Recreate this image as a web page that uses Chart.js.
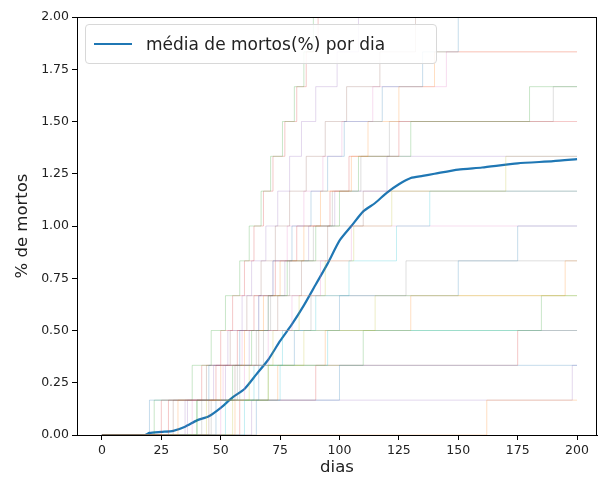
<!DOCTYPE html>
<html>
<head>
<meta charset="utf-8">
<script src="https://cdn.jsdelivr.net/npm/chart.js@4"></script>
<style>
  body { margin: 0; background: #fff; }
  #wrap { position: relative; width: 599px; height: 482px; }
  #legend {
    position: absolute; left: 85px; top: 24px; width: 352px; height: 40px;
    border: 1px solid #d8d8d8; border-radius: 4px; background: rgba(255,255,255,0.85);
    font: 17px "DejaVu Sans", sans-serif; color: #222; box-sizing: border-box;
    display: flex; align-items: center;
  }
  #legend span.sw { display: inline-block; width: 38px; height: 2.5px; background: #1f77b4; margin: 0 14px 0 8px; }
</style>
</head>
<body>
<div id="wrap">
  <canvas id="c" width="599" height="482"></canvas>
  <div id="legend"><span class="sw"></span>média de mortos(%) por dia</div>
</div>
<script>
// Mean line (day, %)
const meanDays = [0, 18, 20, 25, 30, 35, 40, 45, 50, 55, 60, 65, 70, 75, 80, 85, 90, 95, 100, 105, 110, 115, 120, 125, 130, 135, 140, 150, 160, 175, 190, 200];
const meanValues = [0, 0, 0.01, 0.015, 0.02, 0.04, 0.07, 0.09, 0.13, 0.18, 0.22, 0.29, 0.36, 0.45, 0.53, 0.62, 0.72, 0.82, 0.93, 1.0, 1.07, 1.11, 1.16, 1.2, 1.23, 1.24, 1.25, 1.27, 1.28, 1.30, 1.31, 1.32];

// Each run: days on which a death happened (each death = 1/6 %)
const runs = [
  [20, 45, 58, 66, 72, 80, 88, 95, 102, 118, 135, 150],
  [32, 50, 60, 68, 75, 85, 92, 105, 112, 125, 140],
  [40, 55, 63, 70, 78, 90, 100, 108, 130, 180],
  [25, 48, 57, 64, 73, 82, 96, 104, 125],
  [35, 52, 62, 70, 77, 87, 98, 120],
  [45, 56, 66, 74, 84, 95, 110],
  [50, 60, 70, 80, 92, 105],
  [42, 58, 68, 88, 128],
  [55, 70, 85, 115],
  [60, 75, 95],
  [65, 100],
  [162],
  [22, 38, 46, 52, 58, 62, 67, 71, 76, 81, 85, 89, 93, 98],
  [28, 42, 50, 55, 60, 64, 68, 72, 77, 82, 86, 91, 97],
  [36, 47, 53, 59, 63, 69, 74, 79, 84, 90, 99, 108, 116, 140],
  [30, 44, 54, 61, 67, 73, 79, 86, 94, 103, 117, 132, 160],
  [38, 51, 59, 66, 72, 78, 85, 93, 101, 114, 145],
  [46, 57, 65, 71, 79, 89, 97, 109, 121, 190],
  [44, 62, 72, 83, 94, 106, 122, 170],
  [52, 64, 76, 90, 104, 124, 138],
  [48, 66, 81, 100, 150, 175],
  [56, 74, 94, 130, 195],
  [40, 70, 110, 185],
  [58, 90, 175],
  [63, 198]
];
const deathStep = 1 / 6;
const xTicks = [0, 25, 50, 75, 100, 125, 150, 175, 200];
const yTicks = [0, 0.25, 0.5, 0.75, 1.0, 1.25, 1.5, 1.75, 2.0];
const palette = ['31,119,180', '255,127,14', '44,160,44', '214,39,40', '148,103,189', '140,86,75', '227,119,194', '127,127,127', '188,189,34', '23,190,207'];

const datasets = runs.map(function(days, i) {
  const pts = [{ x: 0, y: 0 }];
  days.forEach(function(d, k) { pts.push({ x: d, y: (k + 1) * deathStep }); });
  pts.push({ x: 200, y: days.length * deathStep });
  return {
    data: pts, stepped: true, borderWidth: 1, pointRadius: 0,
    borderColor: 'rgba(' + palette[i % 10] + ',0.25)'
  };
});
datasets.push({
  data: meanDays.map(function(d, i) { return { x: d, y: meanValues[i] }; }),
  borderColor: '#1f77b4', borderWidth: 2.2, pointRadius: 0, tension: 0.2
});

const frame = {
  id: 'frame',
  afterDraw: function(chart) {
    const a = chart.chartArea, ctx = chart.ctx;
    ctx.save(); ctx.strokeStyle = '#000'; ctx.lineWidth = 1;
    ctx.strokeRect(a.left + 0.5, a.top + 0.5, a.right - a.left - 1, a.bottom - a.top);
    ctx.restore();
  }
};

const tickFont = { family: 'DejaVu Sans', size: 12.5 };
new Chart(document.getElementById('c'), {
  type: 'line',
  data: { datasets: datasets },
  plugins: [frame],
  options: {
    responsive: false, animation: false,
    layout: { padding: { top: 17, right: 2, left: 9, bottom: 0 } },
    plugins: { legend: { display: false }, tooltip: { enabled: false } },
    scales: {
      x: {
        type: 'linear', min: -10.5, max: 208.4,
        afterBuildTicks: function(s) { s.ticks = xTicks.map(function(v) { return { value: v }; }); },
        afterFit: function(s) { s.height = 47; },
        grid: { drawOnChartArea: false, color: '#000', tickLength: 5 },
        border: { color: '#000' },
        ticks: { color: '#222', font: tickFont, padding: 3 },
        title: { display: true, text: 'dias', color: '#222', font: { family: 'DejaVu Sans', size: 16.5 }, padding: { top: 0 } }
      },
      y: {
        min: 0, max: 2,
        afterBuildTicks: function(s) { s.ticks = yTicks.map(function(v) { return { value: v }; }); },
        afterFit: function(s) { s.width = 68; },
        grid: { drawOnChartArea: false, color: '#000', tickLength: 5 },
        border: { color: '#000' },
        ticks: { color: '#222', font: tickFont, padding: 3, callback: function(v) { return v.toFixed(2); } },
        title: { display: true, text: '% de mortos', color: '#222', font: { family: 'DejaVu Sans', size: 16.5 }, padding: { bottom: 2 } }
      }
    }
  }
});
</script>
</body>
</html>
